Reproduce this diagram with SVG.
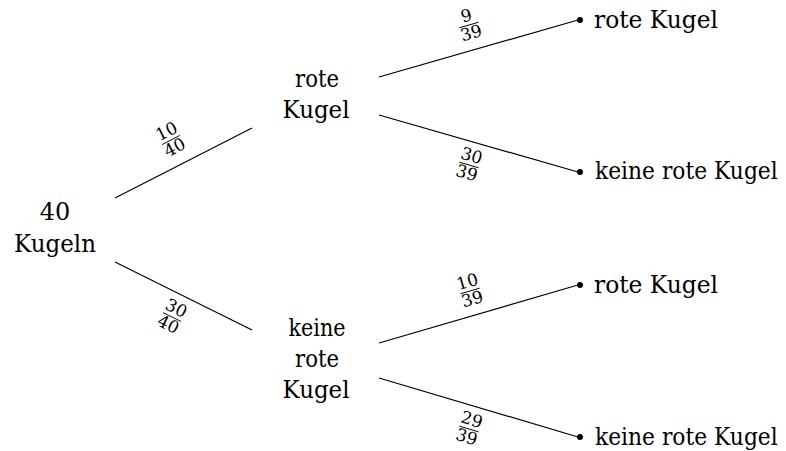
<svg xmlns="http://www.w3.org/2000/svg" width="786" height="451" viewBox="0 0 786 451">
  <style>
    .t { font-size: 24px; fill: #000; }
    .c { text-anchor: middle; }
    .f { font-size: 17px; fill: #000; text-anchor: middle; }
    .e { stroke: #000; stroke-width: 1.2; fill: none; }
    .bar { stroke: #000; stroke-width: 0.9; }
  </style>
  <rect width="786" height="451" fill="#fff"/>

  <!-- branches -->
  <g id="connectors">
    <line class="e" x1="115" y1="198" x2="252" y2="128"/>
    <line class="e" x1="115" y1="262" x2="252" y2="330"/>
    <line class="e" x1="379" y1="77" x2="578" y2="20"/>
    <line class="e" x1="379" y1="115" x2="578" y2="172"/>
    <line class="e" x1="379" y1="343" x2="578" y2="285"/>
    <line class="e" x1="379" y1="378" x2="578" y2="437"/>
    <circle cx="580" cy="20" r="3"/>
    <circle cx="580" cy="172" r="3"/>
    <circle cx="580" cy="285" r="3"/>
    <circle cx="580" cy="437" r="3"/>
  </g>

  <g font-family="DejaVu Serif, serif">
  <!-- probabilities on the branches -->
  <g id="p1" transform="translate(171,140) rotate(-27)">
    <text class="f" x="0" y="-4">10</text><line class="bar" x1="-10" y1="0" x2="10" y2="0"/><text class="f" x="0" y="14">40</text>
  </g>
  <g id="p2" transform="translate(172,317) rotate(26.4)">
    <text class="f" x="0" y="-4">30</text><line class="bar" x1="-10" y1="0" x2="10" y2="0"/><text class="f" x="0" y="14">40</text>
  </g>
  <g id="p3" transform="translate(469,25) rotate(-16)">
    <text class="f" x="0" y="-4">9</text><line class="bar" x1="-10" y1="0" x2="10" y2="0"/><text class="f" x="0" y="14">39</text>
  </g>
  <g id="p4" transform="translate(469,165) rotate(16)">
    <text class="f" x="0" y="-4">30</text><line class="bar" x1="-10" y1="0" x2="10" y2="0"/><text class="f" x="0" y="14">39</text>
  </g>
  <g id="p5" transform="translate(470,291) rotate(-16.3)">
    <text class="f" x="0" y="-4">10</text><line class="bar" x1="-10" y1="0" x2="10" y2="0"/><text class="f" x="0" y="14">39</text>
  </g>
  <g id="p6" transform="translate(469,429) rotate(16.6)">
    <text class="f" x="0" y="-4">29</text><line class="bar" x1="-10" y1="0" x2="10" y2="0"/><text class="f" x="0" y="14">39</text>
  </g>

  <!-- nodes -->
  <g id="root">
    <text class="t c" x="55" y="220">40</text>
    <text class="t c" x="55" y="252" textLength="82" lengthAdjust="spacingAndGlyphs">Kugeln</text>
  </g>
  <g id="red">
    <text class="t c" x="317" y="87" textLength="44" lengthAdjust="spacingAndGlyphs">rote</text>
    <text class="t c" x="316" y="118" textLength="67" lengthAdjust="spacingAndGlyphs">Kugel</text>
  </g>
  <g id="notred">
    <text class="t c" x="317" y="336" textLength="57" lengthAdjust="spacingAndGlyphs">keine</text>
    <text class="t c" x="317" y="367" textLength="44" lengthAdjust="spacingAndGlyphs">rote</text>
    <text class="t c" x="316" y="398" textLength="67" lengthAdjust="spacingAndGlyphs">Kugel</text>
  </g>
  <g id="leaf1"><text class="t" x="594" y="28" textLength="124" lengthAdjust="spacingAndGlyphs">rote Kugel</text></g>
  <g id="leaf2"><text class="t" transform="translate(595,179) scale(0.9,1)" textLength="203" lengthAdjust="spacingAndGlyphs">keine rote Kugel</text></g>
  <g id="leaf3"><text class="t" x="594" y="293" textLength="124" lengthAdjust="spacingAndGlyphs">rote Kugel</text></g>
  <g id="leaf4"><text class="t" transform="translate(595,445) scale(0.9,1)" textLength="203" lengthAdjust="spacingAndGlyphs">keine rote Kugel</text></g>
  </g>
</svg>
